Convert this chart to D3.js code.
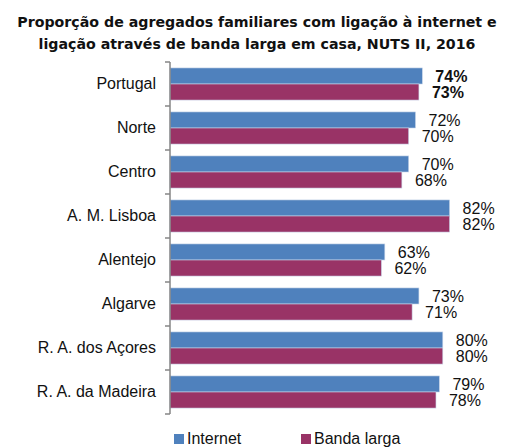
<!DOCTYPE html>
<html>
<head>
<meta charset="utf-8">
<script src="https://cdn.jsdelivr.net/npm/d3@7"></script>
<style>
  body { margin: 0; background: #fff; }
  svg { display: block; }
</style>
</head>
<body>
<svg id="chart" width="512" height="447"></svg>
<script>
const regions = ['Portugal', 'Norte', 'Centro', 'A. M. Lisboa', 'Alentejo', 'Algarve', 'R. A. dos Açores', 'R. A. da Madeira'];
const internet = [74, 72, 70, 82, 63, 73, 80, 79];
const bandaLarga = [73, 70, 68, 82, 62, 71, 80, 78];
const seriesNames = ['Internet', 'Banda larga'];
const seriesColors = ['#4f81bd', '#993366'];
const titleLines = [
  'Proporção de agregados familiares com ligação à internet e',
  'ligação através de banda larga em casa, NUTS II, 2016'
];

const svg = d3.select('#chart');
const labelFont = 'Arial, "Liberation Sans", sans-serif';

// title
svg.append('g')
  .selectAll('text')
  .data(titleLines)
  .join('text')
  .attr('x', 257)
  .attr('y', (d, i) => 27 + i * 22)
  .attr('text-anchor', 'middle')
  .attr('font-family', 'Verdana, "DejaVu Sans", sans-serif')
  .attr('font-weight', 'bold')
  .attr('font-size', 14.2)
  .attr('fill', '#111')
  .text(d => d);

const x = d3.scaleLinear().domain([0, 100]).range([170, 511]);
const y = d3.scaleBand().domain(regions).range([62, 414])
  .paddingInner(0.27).paddingOuter(0.135);
const sub = d3.scaleBand().domain([0, 1]).range([0, y.bandwidth()]);

const rows = regions.map((r, i) => ({ region: r, values: [internet[i], bandaLarga[i]] }));

const groups = svg.append('g')
  .selectAll('g')
  .data(rows)
  .join('g')
  .attr('transform', d => `translate(0,${y(d.region)})`);

groups.selectAll('rect')
  .data(d => d.values)
  .join('rect')
  .attr('x', x(0))
  .attr('y', (d, i) => sub(i))
  .attr('width', d => x(d) - x(0))
  .attr('height', sub.bandwidth())
  .attr('fill', (d, i) => seriesColors[i])
  .attr('stroke', '#c9d6ea')
  .attr('stroke-width', 0.6);

// value labels
groups.each(function (row, ri) {
  d3.select(this).selectAll('text')
    .data(row.values)
    .join('text')
    .attr('x', d => x(d) + 13)
    .attr('y', (d, i) => sub(i) + sub.bandwidth() / 2)
    .attr('dy', '0.36em')
    .attr('font-family', labelFont)
    .attr('font-size', 16)
    .attr('font-weight', ri === 0 ? 'bold' : 'normal')
    .attr('fill', '#111')
    .text(d => d + '%');
});

// category axis
const axis = svg.append('g')
  .attr('transform', `translate(${x(0)},0)`)
  .call(d3.axisLeft(y).tickSize(0).tickPadding(14));
axis.select('.domain').remove();
axis.selectAll('text')
  .attr('font-family', labelFont)
  .attr('font-size', 16)
  .attr('fill', '#111');

const boundaries = d3.range(regions.length + 1).map(i => y.range()[0] + i * y.step());
svg.append('line')
  .attr('x1', x(0)).attr('x2', x(0))
  .attr('y1', boundaries[0]).attr('y2', boundaries[boundaries.length - 1])
  .attr('stroke', '#868686').attr('stroke-width', 1.5);
svg.append('g')
  .selectAll('line')
  .data(boundaries)
  .join('line')
  .attr('x1', x(0) - 5).attr('x2', x(0))
  .attr('y1', d => d).attr('y2', d => d)
  .attr('stroke', '#868686').attr('stroke-width', 1.5);

// legend
const legendX = [174, 301];
const legend = svg.append('g')
  .selectAll('g')
  .data(seriesNames)
  .join('g')
  .attr('transform', (d, i) => `translate(${legendX[i]},434)`);
legend.append('rect')
  .attr('width', 10).attr('height', 10)
  .attr('fill', (d, i) => seriesColors[i]);
legend.append('text')
  .attr('x', 13).attr('y', 10)
  .attr('font-family', labelFont)
  .attr('font-size', 16)
  .attr('fill', '#111')
  .text(d => d);
</script>
</body>
</html>
